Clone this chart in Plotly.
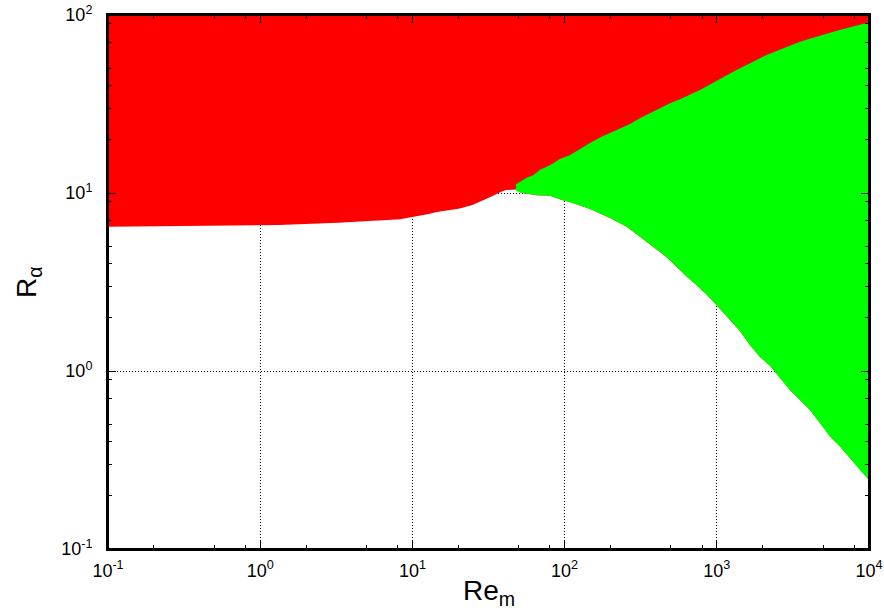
import plotly.graph_objects as go

# Boundary of the red region (lower edge) for small Re_m
red_re = [0.1, 1.33, 3.24, 5.1, 8.3, 9.2, 11.0, 12.8, 14.5, 16.9, 20.5, 25.0, 29.1, 32.8, 37.1, 41.0, 48.0]
red_ra = [6.47, 6.61, 6.81, 6.96, 7.12, 7.24, 7.43, 7.63, 7.82, 7.96, 8.17, 8.60, 9.06, 9.53, 10.04, 10.4, 10.45]

# Upper edge of the green region (red / green interface)
upper_re = [48, 56.4, 62.3, 68.9, 80.1, 93.2, 108, 126, 147, 171, 199, 231, 269, 313, 364, 424,
            493, 573, 667, 776, 1282, 2124, 3521, 5834, 10000]
upper_ra = [11.2, 12.2, 12.6, 13.5, 14.3, 15.5, 16.3, 17.7, 19.1, 20.5, 21.8, 23.1, 24.4, 26.3, 28.1, 29.9,
            31.9, 33.6, 35.8, 37.9, 48.0, 59.6, 70.8, 80.5, 91.0]

# Lower edge of the green region (green / white interface)
lower_re = [48, 52, 66, 80, 96, 108, 147, 199, 256, 346, 469, 634, 776, 902, 1049, 1221, 1420,
            1651, 1921, 2236, 2600, 3026, 3521, 4095, 4765, 5543, 6448, 7500, 8730, 10000]
lower_ra = [10.3, 10.0, 9.7, 9.66, 9.14, 8.9, 8.12, 7.24, 6.47, 5.33, 4.36, 3.39, 2.92, 2.57, 2.24, 1.95, 1.68,
            1.40, 1.20, 1.07, 0.914, 0.782, 0.687, 0.604, 0.510, 0.428, 0.376, 0.325, 0.278, 0.244]

x_range = [0.1, 1e4]
y_range = [0.1, 100]

x_tickvals = [0.1, 1, 10, 100, 1000, 10000]
x_ticktext = ["10<sup>-1</sup>", "10<sup>0</sup>", "10<sup>1</sup>", "10<sup>2</sup>", "10<sup>3</sup>", "10<sup>4</sup>"]
y_tickvals = [0.1, 1, 10, 100]
y_ticktext = ["10<sup>-1</sup>", "10<sup>0</sup>", "10<sup>1</sup>", "10<sup>2</sup>"]

x_minor = [m * d for d in [0.1, 1, 10, 100, 1000] for m in (2, 5, 8)]
y_minor = [m * d for d in [0.1, 1, 10] for m in (2, 3, 4, 5, 7, 9)]

x_title = "Re<sub>m</sub>"
y_title = "R<sub>α</sub>"

fig = go.Figure()

# red region: from red boundary / green lower boundary up to the top
red_x = red_re + lower_re[1:] + [x_range[1], x_range[0]]
red_y = red_ra + lower_ra[1:] + [y_range[1], y_range[1]]
fig.add_trace(go.Scatter(x=red_x, y=red_y, fill="toself", fillcolor="#FF0000",
                         mode="lines", line=dict(width=0, color="#FF0000"),
                         hoverinfo="skip", showlegend=False))

# green region: between the upper and lower boundaries
green_x = upper_re + lower_re[::-1]
green_y = upper_ra + lower_ra[::-1]
fig.add_trace(go.Scatter(x=green_x, y=green_y, fill="toself", fillcolor="#00FF00",
                         mode="lines", line=dict(width=0, color="#00FF00"),
                         hoverinfo="skip", showlegend=False))

font_family = "Liberation Sans, Arial, sans-serif"

axis_common = dict(
    type="log",
    automargin=False,
    showline=True, linecolor="black", linewidth=2, mirror="ticks",
    ticks="inside", ticklen=8, tickwidth=1, tickcolor="black",
    showgrid=True, gridcolor="black", gridwidth=1, griddash="1px,2px",
    zeroline=False,
    tickfont=dict(family=font_family, size=18, color="black"),
    ticklabeloverflow="allow",
    layer="above traces",
)

fig.update_layout(
    width=884, height=614,
    margin=dict(l=108, r=15, t=15, b=65),
    paper_bgcolor="white", plot_bgcolor="white",
    font=dict(family=font_family, color="black"),
    xaxis=dict(
        range=[-1, 4], tickmode="array", tickvals=x_tickvals, ticktext=x_ticktext,
        minor=dict(tickmode="array", tickvals=x_minor, ticks="inside", ticklen=4,
                   tickcolor="black", showgrid=False),
        ticklabelstandoff=4,
        **axis_common,
    ),
    yaxis=dict(
        range=[-1, 2], tickmode="array", tickvals=y_tickvals, ticktext=y_ticktext,
        minor=dict(tickmode="array", tickvals=y_minor, ticks="inside", ticklen=4,
                   tickcolor="black", showgrid=False),
        ticklabelstandoff=10,
        **axis_common,
    ),
    shapes=[
        dict(type="rect", xref="paper", yref="paper", x0=0, y0=0, x1=1, y1=1,
             line=dict(color="black", width=2), fillcolor="rgba(0,0,0,0)", layer="above"),
    ],
    annotations=[
        dict(text=x_title, xref="paper", yref="paper", x=0.5, y=-0.045,
             xanchor="center", yanchor="top", showarrow=False,
             font=dict(family=font_family, size=28, color="black")),
        dict(text=y_title, xref="paper", yref="paper", x=-0.105, y=0.5,
             xanchor="center", yanchor="middle", textangle=-90, showarrow=False,
             font=dict(family=font_family, size=28, color="black")),
    ],
)

# remove the default page margin so the figure fills the 884x614 window exactly
fig.write_html("out.html", config={"displayModeBar": False},
               post_script="document.body.style.margin='0';")
